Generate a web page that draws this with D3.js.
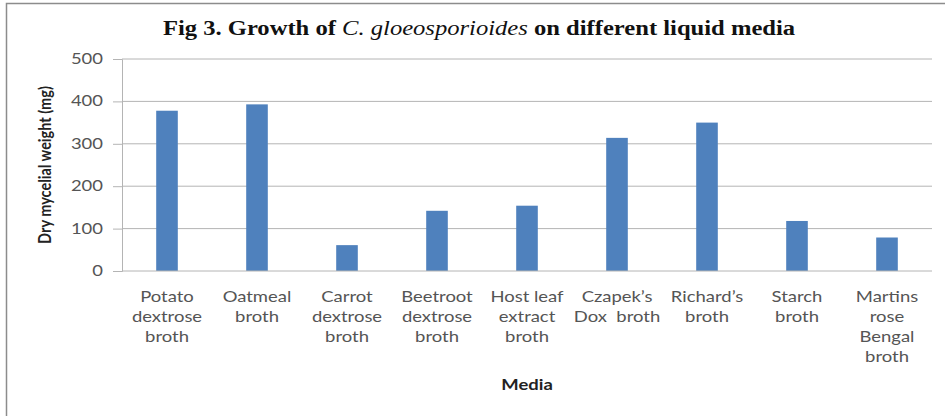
<!DOCTYPE html>
<html>
<head>
<meta charset="utf-8">
<script src="https://cdn.jsdelivr.net/npm/d3@7"></script>
<style>
  body { margin: 0; background: #fff; }
  svg text { font-family: Lato, "Open Sans", sans-serif; white-space: pre; }
</style>
</head>
<body>
<div id="chart"></div>
<script>
let media = [
    ["Potato", "dextrose", "broth"],
    ["Oatmeal", "broth"],
    ["Carrot", "dextrose", "broth"],
    ["Beetroot", "dextrose", "broth"],
    ["Host leaf", "extract", "broth"],
    ["Czapek\u2019s", "Dox  broth"],
    ["Richard\u2019s", "broth"],
    ["Starch", "broth"],
    ["Martins", "rose", "Bengal", "broth"]
];
let weights = [378, 393, 61, 142, 154, 314, 350, 118, 79];
let yTicks = [0, 100, 200, 300, 400, 500];

// the original picture is stretched sideways, so the text is too
let stretch = 1.23;

function place(px, py) {
    return "translate(" + px + "," + py + ") scale(" + stretch + ",1)";
}

function drawChart() {
    var W = 945, H = 416;
    var margin = {top: 59, right: 13, bottom: 145, left: 122},
        width = W - margin.left - margin.right,
        height = H - margin.top - margin.bottom;

    var svg = d3.select("#chart")
        .append("svg")
        .attr("width", W)
        .attr("height", H);

    // outer frame
    svg.append("rect")
        .attr("x", 6.5).attr("y", 3.5)
        .attr("width", W + 10).attr("height", H + 10)
        .attr("fill", "none")
        .attr("stroke", "#8c8c8c")
        .attr("stroke-width", 1.5);

    // title with italic species name
    var title = svg.append("text")
        .attr("transform", place(479, 35))
        .attr("text-anchor", "middle")
        .style("font-family", "'Liberation Serif', 'Times New Roman', serif")
        .style("font-size", "20px")
        .style("font-weight", "bold")
        .attr("fill", "#111");
    title.append("tspan").text("Fig 3. Growth of ");
    title.append("tspan").style("font-style", "italic").style("font-weight", "normal").text("C. gloeosporioides");
    title.append("tspan").text(" on different liquid media");

    var g = svg.append("g")
        .attr("transform", "translate(" + margin.left + "," + margin.top + ")");

    var x = d3.scaleBand()
        .domain(d3.range(media.length))
        .range([0, width])
        .paddingInner(0.76)
        .paddingOuter(0.38);

    var y = d3.scaleLinear()
        .domain([0, 500])
        .range([height, 0]);

    // gridlines
    g.append("g")
        .selectAll("line")
        .data(yTicks.filter(d => d > 0))
        .join("line")
        .attr("x1", 0).attr("x2", width)
        .attr("y1", d => y(d)).attr("y2", d => y(d))
        .attr("stroke", "#b4b4b4")
        .attr("stroke-width", 1);

    // y axis: line and ticks from d3, labels placed by hand so they can be stretched
    var yAxis = g.append("g")
        .call(d3.axisLeft(y).tickValues(yTicks).tickSize(9).tickFormat(""));
    yAxis.select(".domain").attr("stroke", "#b4b4b4");
    yAxis.selectAll(".tick line").attr("stroke", "#b4b4b4");

    g.append("g")
        .selectAll("text")
        .data(yTicks)
        .join("text")
        .attr("transform", d => place(-19, y(d) + 5))
        .attr("text-anchor", "end")
        .style("font-size", "15px")
        .attr("fill", "#555")
        .text(d => d);

    // bars
    g.selectAll(".bar")
        .data(weights)
        .join("rect")
        .attr("class", "bar")
        .attr("x", (d, i) => x(i))
        .attr("width", x.bandwidth())
        .attr("y", d => y(d))
        .attr("height", d => height - y(d))
        .attr("fill", "#4f81bd");

    // x axis line
    g.append("line")
        .attr("x1", 0).attr("x2", width)
        .attr("y1", height).attr("y2", height)
        .attr("stroke", "#b4b4b4");

    // category labels
    var labels = g.append("g")
        .selectAll("text")
        .data(media)
        .join("text")
        .attr("text-anchor", "middle")
        .attr("transform", (d, i) => place(x(i) + x.bandwidth() / 2, height + 31))
        .style("font-size", "15px")
        .attr("fill", "#555");
    labels.selectAll("tspan")
        .data(d => d)
        .join("tspan")
        .attr("x", 0)
        .attr("dy", (d, i) => i === 0 ? 0 : 20)
        .text(d => d);

    // axis titles
    svg.append("text")
        .attr("transform", place(527, 390))
        .attr("text-anchor", "middle")
        .style("font-size", "15px")
        .style("font-weight", "bold")
        .attr("fill", "#222")
        .text("Media");

    svg.append("text")
        .attr("transform", "translate(51," + (margin.top + height / 2) + ") rotate(-90) scale(1," + stretch + ")")
        .attr("text-anchor", "middle")
        .style("font-size", "14.5px")
        .style("font-weight", "bold")
        .attr("fill", "#222")
        .text("Dry mycelial weight (mg)");
}

drawChart();
</script>
</body>
</html>
